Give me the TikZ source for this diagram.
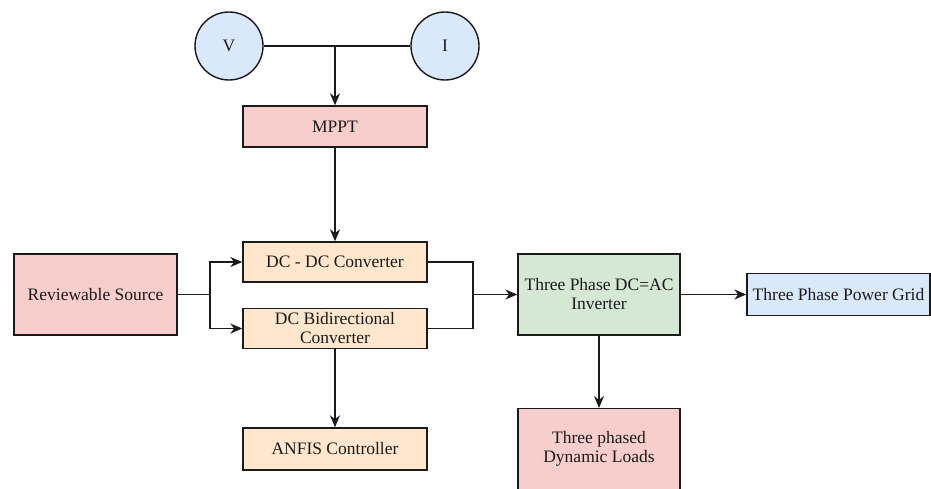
\documentclass[tikz,border=0pt]{standalone}
\usepackage{fontspec}
\setmainfont{Liberation Serif}
\usetikzlibrary{arrows.meta,positioning}
\definecolor{pinkf}{HTML}{F8CECC}
\definecolor{orangef}{HTML}{FFE6CC}
\definecolor{greenf}{HTML}{D5E8D4}
\definecolor{bluef}{HTML}{DAE8FC}
\definecolor{linec}{HTML}{1A1A1A}
\begin{document}
\begin{tikzpicture}[x=1pt,y=-1pt,
  every node/.style={font=\fontsize{17.5}{20}\selectfont, text=linec},
  blockbox/.style={draw=linec, line width=1.4pt, rectangle, inner sep=0pt, align=center},
  sensor/.style={draw=linec, line width=1.4pt, circle, fill=bluef, minimum size=68pt, inner sep=0pt},
  conn/.style={draw=linec, line width=1.4pt},
  arr/.style={conn, -{Stealth[length=12pt,width=10pt]}}]
\useasboundingbox (0,0) rectangle (931,488);
\fill[white] (0,0) rectangle (931,488);
% circles
\node[sensor] (V) at (229,46) {V};
\node[sensor] (I) at (445,46) {I};
% boxes
\node[blockbox, fill=pinkf, minimum width=184pt, minimum height=41pt] (mppt) at (335,126.5) {MPPT};
\node[blockbox, fill=orangef, minimum width=184pt, minimum height=40pt] (dcdc) at (335,262) {DC - DC Converter};
\node[blockbox, fill=orangef, minimum width=184pt, minimum height=40pt] (dcbi) at (335,328.5) {DC Bidirectional\\[-1pt]Converter};
\node[blockbox, fill=pinkf, minimum width=163pt, minimum height=81pt] (src) at (95.5,294.5) {Reviewable Source};
\node[blockbox, fill=greenf, minimum width=162pt, minimum height=81pt] (inv) at (599,294.5) {Three Phase DC=AC\\[-1pt]Inverter};
\node[blockbox, fill=bluef, minimum width=183pt, minimum height=42pt] (grid) at (838.5,294.5) {Three Phase Power Grid};
\node[blockbox, fill=orangef, minimum width=184pt, minimum height=42pt] (anfis) at (335,449) {ANFIS Controller};
\node[blockbox, fill=pinkf, minimum width=162pt, minimum height=86pt, anchor=north] (load) at (599,408) {};
\node[align=center] (loadtxt) at (599,449) {Three phased\\[-1pt]Dynamic Loads};
% connectors
\coordinate (vij) at (335,46);
\draw[conn] (V.east) -- (I.west);
\draw[arr] (vij) -- (mppt.north);
\draw[arr] (mppt.south) -- (dcdc.north);
\coordinate (split) at (210,294.5);
\draw[conn] (src.east) -- (split);
\draw[arr] (split) |- (dcdc.west);
\draw[arr] (split) |- (dcbi.west);
\coordinate (merge) at (473,294.5);
\draw[conn] (dcdc.east) -| (merge);
\draw[conn] (dcbi.east) -| (merge);
\draw[arr] (merge) -- (inv.west);
\draw[arr] (inv.east) -- (grid.west);
\draw[arr] (inv.south) -- (load.north);
\draw[arr] (dcbi.south) -- (anfis.north);
\end{tikzpicture}
\end{document}
